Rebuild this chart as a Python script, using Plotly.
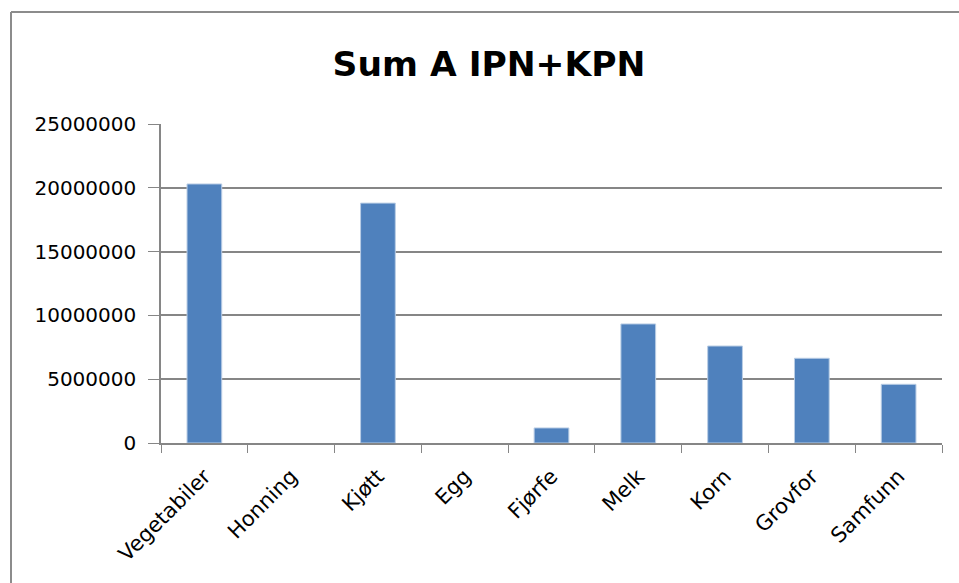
import plotly.graph_objects as go

categories = ["Vegetabiler", "Honning", "Kjøtt", "Egg", "Fjørfe", "Melk", "Korn", "Grovfor", "Samfunn"]
values = [20300000, 0, 18800000, 0, 1180000, 9330000, 7600000, 6640000, 4600000]
y_ticks = [0, 5000000, 10000000, 15000000, 20000000, 25000000]
title_text = "Sum A IPN+KPN"

W, H = 959, 583
OFF = 0  # page body margin removed via post_script
# target plot area in page pixels
PL, PR, PT, PB = 161, 942, 124, 443
L = PL - OFF
T = PT - OFF
R = W + OFF - PR
B = H + OFF - PB
pw = PR - PL
ph = PB - PT

def px_x(p):
    return (p - PL) / pw

def px_y(p):
    return (PB - p) / ph

FONT = "DejaVu Sans, sans-serif"
BORDER = dict(color="#8C8C8C", width=2)
outline_widths = [1 if v > 0 else 0 for v in values]

fig = go.Figure(go.Bar(
    x=categories, y=values,
    marker=dict(color="#4F81BD", line=dict(color="#B9CDE5", width=outline_widths)),
))

fig.update_layout(
    width=W, height=H,
    margin=dict(l=L, r=R, t=T, b=B, pad=0),
    paper_bgcolor="white", plot_bgcolor="white",
    bargap=0.6,
    showlegend=False,
    font=dict(family=FONT, color="#000000"),
    title=dict(text="<b>" + title_text + "</b>", x=(489 - OFF) / W, xref="container", xanchor="center",
               y=1 - (64 - OFF) / H, yref="container", yanchor="middle",
               font=dict(family=FONT, size=34.5, color="#000000")),
    xaxis=dict(
        type="category", tickangle=-45, tickson="boundaries", ticks="outside", ticklen=8,
        tickcolor="#868686", showline=True, linecolor="#868686", linewidth=1.5,
        showgrid=False, tickfont=dict(size=21, color="#000000"), ticklabelstandoff=11,
    ),
    yaxis=dict(
        range=[0, 25000000], tickvals=y_ticks, tickformat="d", ticks="outside", ticklen=11,
        tickcolor="#868686", showline=True, linecolor="#868686", linewidth=1.5,
        showgrid=True, gridcolor="#868686", gridwidth=1.5, zeroline=False,
        tickfont=dict(size=20, color="#000000"), ticklabelstandoff=8,
    ),
    shapes=[
        dict(type="line", xref="paper", yref="paper",
             x0=px_x(11), x1=px_x(1200), y0=px_y(12), y1=px_y(12), line=BORDER, layer="above"),
        dict(type="line", xref="paper", yref="paper",
             x0=px_x(11), x1=px_x(11), y0=px_y(12), y1=px_y(700), line=BORDER, layer="above"),
    ],
)

fig.write_html(
    "out.html",
    config={"displayModeBar": False},
    post_script="document.body.style.margin='0';document.body.style.overflow='hidden';",
)
